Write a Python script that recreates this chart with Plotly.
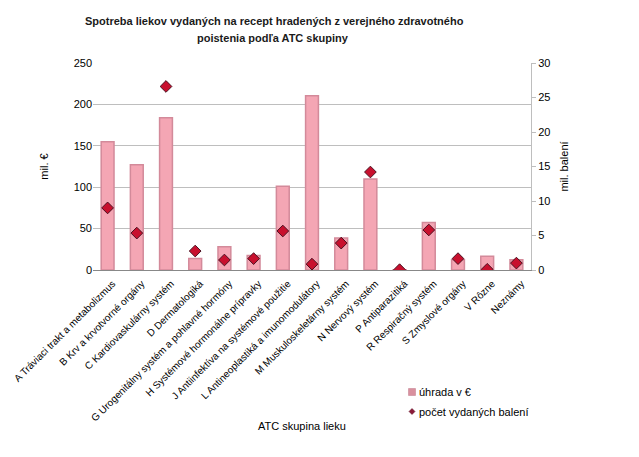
import plotly.graph_objects as go

categories = [
    "A Tráviaci trakt a metabolizmus",
    "B Krv a krvotvorné orgány",
    "C Kardiovaskulárny systém",
    "D Dermatologiká",
    "G Urogenitálny systém a pohlavné hormóny",
    "H Systémové hormonálne prípravky",
    "J Antiinfektíva na systémové použitie",
    "L Antineoplastiká a imunomodulátory",
    "M Muskuloskeletárny systém",
    "N Nervový systém",
    "P Antiparazitiká",
    "R Respiračný systém",
    "S Zmyslové orgány",
    "V Rôzne",
    "Neznámy",
]
uhrada = [155, 127, 184, 14, 28, 17.5, 101, 210.5, 38.5, 110, 0.3, 57.5, 12.5, 16.5, 12.5]
balenia = [9.0, 5.35, 26.6, 2.75, 1.45, 1.65, 5.65, 0.85, 3.9, 14.2, 0.05, 5.8, 1.65, 0.1, 1.0]
legend_names = ["úhrada v €", "počet vydaných balení"]
title_lines = ["Spotreba liekov vydaných na recept hradených z verejného zdravotného",
               "poistenia podľa ATC skupiny"]

font_family = "Liberation Sans, Arial, sans-serif"
bar_color = "#F4A6B4"
dot_color = "#C8102E"

fig = go.Figure()
fig.add_trace(go.Bar(
    x=categories, y=uhrada, name=legend_names[0],
    marker=dict(color=bar_color, line=dict(color="#D38A9A", width=1.5)),
    width=0.44, yaxis="y", showlegend=False,
))
fig.add_trace(go.Scatter(
    x=categories, y=balenia, name=legend_names[1], mode="markers",
    marker=dict(symbol="diamond", size=9, color=dot_color, line=dict(color="#4a1020", width=1)),
    yaxis="y2", showlegend=False,
))

# plot area on screen (px): x 93..531, y 63..270 ; page body margin is 8px
def px_x(p):
    return (p - 93) / 438

def px_y(p):
    return (270 - p) / 207

shapes = [
    dict(type="rect", xref="paper", yref="paper",
         x0=px_x(408.5), x1=px_x(415.5), y0=px_y(395.5), y1=px_y(388.5),
         fillcolor="#D9909E", line=dict(color="#C07888", width=0.5)),
    dict(type="path", xref="paper", yref="paper",
         path=f"M {px_x(412)} {px_y(408.5)} L {px_x(415)} {px_y(411.5)} L {px_x(412)} {px_y(414.5)} L {px_x(409)} {px_y(411.5)} Z",
         fillcolor="#8B1A3A", line=dict(color="#5a1020", width=0.5)),
]

title_font = dict(family="Liberation Sans Narrow, Arial Narrow, Liberation Sans, sans-serif", size=11, color="#1a1a1a")
annotations = [
    dict(text=f"<b>{title_lines[0]}</b>", x=px_x(274.5), y=px_y(21), xref="paper", yref="paper",
         xanchor="center", yanchor="middle", showarrow=False, font=title_font),
    dict(text=f"<b>{title_lines[1]}</b>", x=px_x(273), y=px_y(38), xref="paper", yref="paper",
         xanchor="center", yanchor="middle", showarrow=False, font=title_font),
    dict(text="ATC skupina lieku", x=px_x(302), y=px_y(426), xref="paper", yref="paper",
         xanchor="center", yanchor="middle", showarrow=False, font=dict(size=11)),
    dict(text=legend_names[0], x=px_x(417), y=px_y(392), xref="paper", yref="paper",
         xanchor="left", yanchor="middle", showarrow=False, font=dict(size=11)),
    dict(text=legend_names[1], x=px_x(417), y=px_y(412), xref="paper", yref="paper",
         xanchor="left", yanchor="middle", showarrow=False, font=dict(size=11)),
]

fig.update_layout(
    width=631, height=449,
    margin=dict(l=85, r=108, t=55, b=187, autoexpand=False),
    plot_bgcolor="white", paper_bgcolor="white",
    font=dict(family=font_family, size=11, color="black"),
    showlegend=False,
    xaxis=dict(
        tickangle=-45, tickfont=dict(size=10), automargin=False,
        ticklabelshift=5, ticklabelstandoff=3,
        range=[-0.5, len(categories) - 0.5], autorange=False,
        showline=True, linecolor="#888888", linewidth=1,
        ticks="", showgrid=False,
    ),
    yaxis=dict(
        range=[0, 250], dtick=50, showgrid=True, gridcolor="#BEBEBE", gridwidth=1,
        zeroline=False, showline=False, ticks="", automargin=False,
        title=dict(text="mil. €", font=dict(size=11), standoff=22),
    ),
    yaxis2=dict(
        range=[0, 30], dtick=5, overlaying="y", side="right", automargin=False,
        showgrid=False, zeroline=False, showline=True, linecolor="#BEBEBE",
        ticks="outside", ticklen=4, tickcolor="#BEBEBE",
        title=dict(text="mil. balení", font=dict(size=11), standoff=10),
    ),
    shapes=shapes,
    annotations=annotations,
)

fig.write_html("out.html")
